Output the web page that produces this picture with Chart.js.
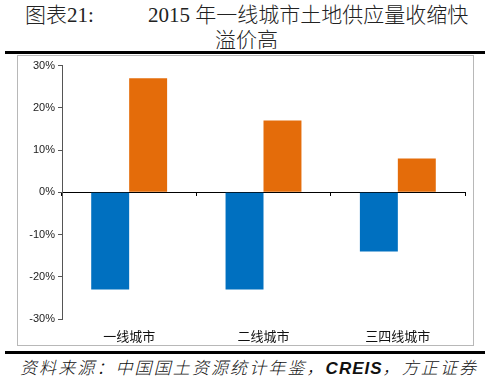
<!DOCTYPE html>
<html><head><meta charset="utf-8">
<script src="https://cdn.jsdelivr.net/npm/chart.js@4"></script>
<style>
html,body{margin:0;padding:0;background:#fff;width:489px;height:380px;overflow:hidden;position:relative;}
.t{position:absolute;white-space:nowrap;color:#222;font-family:"Liberation Serif","Noto Sans CJK SC",serif;font-weight:300;font-size:21px;line-height:1;}
.rule{position:absolute;left:5px;width:480px;height:3px;background:#000;}
#box{position:absolute;left:17px;top:55px;width:455px;height:289px;border:1px solid #b8b8b8;}
#src{position:absolute;left:20px;top:358px;white-space:nowrap;font-family:"Noto Sans CJK SC",sans-serif;font-weight:300;font-style:italic;font-size:17px;letter-spacing:2.1px;color:#111;line-height:1;}
</style></head>
<body>
<div class="t" style="left:25px;top:5px;">图表21:</div>
<div class="t" style="left:148px;top:5px;">2015 年一线城市土地供应量收缩快</div>
<div class="t" style="left:215px;top:30px;">溢价高</div>
<div class="rule" style="top:51px;"></div>
<div id="box"><canvas id="c" width="455" height="289"></canvas></div>
<div class="rule" style="top:351px;"></div>
<div id="src">资料来源：中国国土资源统计年鉴，<span style="font-family:'Liberation Sans';font-weight:bold;letter-spacing:1px;">CREIS</span>，方正证券</div>
<script>
const categories = ['一线城市', '二线城市', '三四线城市'];
const seriesBlue = [-23, -23, -14];
const seriesOrange = [27, 17, 8];
const yTicks = [-30, -20, -10, 0, 10, 20, 30];

new Chart(document.getElementById('c'), {
  type: 'bar',
  data: {
    labels: categories,
    datasets: [
      {data: seriesBlue, backgroundColor: '#0070C0', categoryPercentage: 0.565, barPercentage: 1.0},
      {data: seriesOrange, backgroundColor: '#E46C0A', categoryPercentage: 0.565, barPercentage: 1.0}
    ]
  },
  options: {
    responsive: false,
    devicePixelRatio: 1,
    animation: false,
    layout: {padding: {top: 7, right: 8, left: 0, bottom: 0}},
    plugins: {legend: {display: false}, tooltip: {enabled: false}},
    scales: {
      x: {
        grid: {display: false, drawTicks: false},
        border: {display: false},
        ticks: {padding: 9, color: '#111', font: {family: '"Noto Sans CJK SC"', size: 13}},
        afterFit: s => { s.height = 26; }
      },
      x2: {
        type: 'category',
        position: {y: 0},
        offset: true,
        grid: {display: true, drawOnChartArea: false, drawTicks: true, tickLength: 3, color: '#000', offset: true},
        border: {display: true, color: '#000', width: 1},
        ticks: {display: false}
      },
      y: {
        min: -30, max: 30,
        afterBuildTicks: s => { s.ticks = yTicks.map(v => ({value: v})); },
        grid: {drawOnChartArea: false, drawTicks: true, tickLength: 4, color: '#555'},
        border: {display: true, color: '#555', width: 1},
        ticks: {padding: 3, color: '#222', font: {family: '"Liberation Sans"', size: 11}, callback: v => v + '%'},
        afterFit: s => { s.width = 44; }
      }
    }
  }
});
</script>
</body></html>
